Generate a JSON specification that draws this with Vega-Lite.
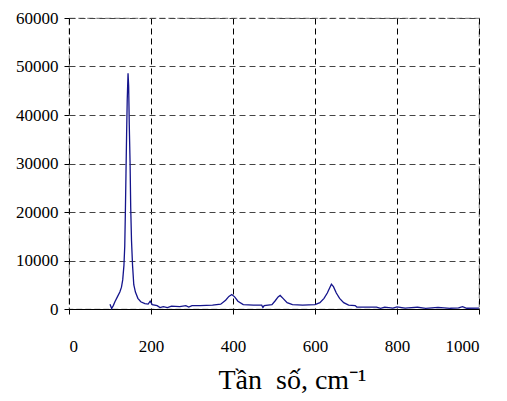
{
  "$schema": "https://vega.github.io/schema/vega-lite/v6.json",
  "width": 410,
  "height": 291,
  "autosize": "none",
  "padding": {"left": 69, "top": 18, "right": 28, "bottom": 92},
  "background": "white",
  "config": {
    "view": {"stroke": "#888888", "strokeDash": [6, 3], "strokeWidth": 1.2},
    "font": "Times New Roman",
    "style": {"guide-label": {"font": "Times New Roman", "fontSize": 17, "fill": "#000000"}, "guide-title": {"font": "Times New Roman"}},
    "axis": {"labelFont": "Times New Roman", "titleFont": "Times New Roman"}
  },
  "data": {
    "values": [
      {"f": 100, "i": 1000}, {"f": 104, "i": 100}, {"f": 108, "i": 700}, {"f": 112, "i": 1500},
      {"f": 118, "i": 2500}, {"f": 124, "i": 3500}, {"f": 128, "i": 4500}, {"f": 131, "i": 6000},
      {"f": 134, "i": 9000}, {"f": 136, "i": 13000}, {"f": 137.5, "i": 20000}, {"f": 139, "i": 28000},
      {"f": 140.5, "i": 36000}, {"f": 142, "i": 43000}, {"f": 144, "i": 48600}, {"f": 145.5, "i": 46000},
      {"f": 147, "i": 38000}, {"f": 149, "i": 30000}, {"f": 150.5, "i": 21000}, {"f": 152.5, "i": 14000},
      {"f": 155, "i": 9000}, {"f": 158, "i": 5000}, {"f": 162, "i": 3500}, {"f": 168, "i": 2200},
      {"f": 175, "i": 1500}, {"f": 185, "i": 1100}, {"f": 193, "i": 1000}, {"f": 198, "i": 1600},
      {"f": 203, "i": 900}, {"f": 215, "i": 700}, {"f": 222, "i": 300}, {"f": 230, "i": 500},
      {"f": 240, "i": 300}, {"f": 250, "i": 600}, {"f": 270, "i": 500}, {"f": 285, "i": 700},
      {"f": 292, "i": 400}, {"f": 300, "i": 700}, {"f": 320, "i": 700}, {"f": 350, "i": 800},
      {"f": 370, "i": 1000}, {"f": 382, "i": 1800}, {"f": 390, "i": 2600}, {"f": 397, "i": 3000},
      {"f": 404, "i": 2500}, {"f": 412, "i": 1600}, {"f": 425, "i": 900}, {"f": 450, "i": 800},
      {"f": 470, "i": 800}, {"f": 473, "i": 300}, {"f": 476, "i": 700}, {"f": 495, "i": 900},
      {"f": 503, "i": 1700}, {"f": 510, "i": 2500},
      {"f": 515, "i": 2800}, {"f": 522, "i": 2200}, {"f": 532, "i": 1300}, {"f": 545, "i": 900},
      {"f": 570, "i": 800}, {"f": 600, "i": 900}, {"f": 612, "i": 1300}, {"f": 622, "i": 2200},
      {"f": 630, "i": 3300}, {"f": 636, "i": 4400}, {"f": 640, "i": 5100}, {"f": 645, "i": 4600},
      {"f": 652, "i": 3300}, {"f": 660, "i": 2200}, {"f": 670, "i": 1300}, {"f": 682, "i": 800},
      {"f": 698, "i": 700}, {"f": 702, "i": 400}, {"f": 750, "i": 400}, {"f": 760, "i": 150},
      {"f": 770, "i": 400}, {"f": 790, "i": 200}, {"f": 800, "i": 450}, {"f": 820, "i": 200},
      {"f": 850, "i": 400}, {"f": 870, "i": 150}, {"f": 900, "i": 350}, {"f": 930, "i": 150},
      {"f": 950, "i": 250}, {"f": 960, "i": 500}, {"f": 970, "i": 150}, {"f": 1000, "i": 200}
    ]
  },
  "layer": [
    {
      "mark": {"type": "line", "color": "#14148c", "strokeWidth": 1.3},
      "encoding": {
        "x": {
          "field": "f", "type": "quantitative",
          "scale": {"domain": [0, 1000], "nice": false},
          "axis": {
            "values": [0, 200, 400, 600, 800, 1000],
            "format": "d",
            "grid": true, "gridColor": "#000000", "gridDash": [6, 4], "gridWidth": 1, "gridOpacity": 1,
            "domainColor": "#000000", "domainWidth": 1.2,
            "tickColor": "#000000", "tickSize": 5,
            "labelFont": "Times New Roman", "labelFontSize": 17, "labelColor": "#000000",
            "labelPadding": 24,
            "title": "Tần\u00a0\u00a0số, cm⁻¹",
            "titleX": 223,
            "titleFont": "Times New Roman", "titleFontSize": 28, "titleFontWeight": "normal",
            "titleColor": "#000000", "titlePadding": 12
          }
        },
        "y": {
          "field": "i", "type": "quantitative",
          "scale": {"domain": [0, 60000], "nice": false},
          "axis": {
            "values": [0, 10000, 20000, 30000, 40000, 50000, 60000],
            "format": "d",
            "grid": true, "gridColor": "#444444", "gridDash": [6, 4], "gridWidth": 1, "gridOpacity": 1,
            "domain": false,
            "tickColor": "#000000", "tickSize": 5,
            "labelFont": "Times New Roman", "labelFontSize": 17, "labelColor": "#000000",
            "labelPadding": 6,
            "title": null
          }
        }
      }
    }
  ]
}
